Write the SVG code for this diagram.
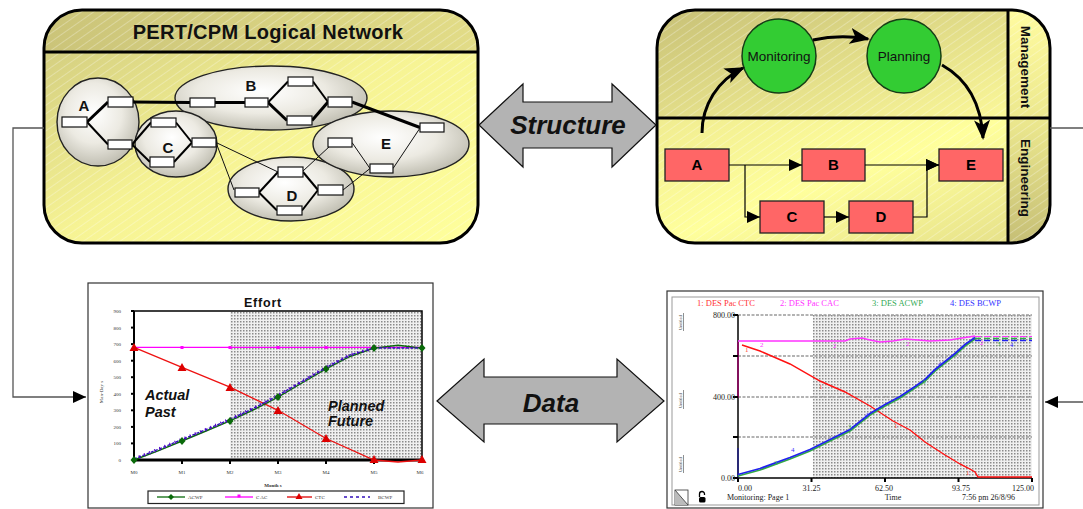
<svg xmlns="http://www.w3.org/2000/svg" width="1083" height="509" viewBox="0 0 1083 509">
<style>
.sans{font-family:"Liberation Sans",Arial,sans-serif}
.serif{font-family:"Liberation Serif","Times New Roman",serif}
.bold{font-weight:bold}
.bi{font-weight:bold;font-style:italic}
.box{fill:#fff;stroke:#111;stroke-width:1.2}
.ell{fill:url(#ellG);stroke:#222;stroke-width:1.4}
.thick{stroke:#000;stroke-width:3;fill:none}
.mid{stroke:#000;stroke-width:2;fill:none}
.thin{stroke:#111;stroke-width:1;fill:none}
.rbox{fill:#ff6666;stroke:#222;stroke-width:1.3}
.circ{fill:#33cc33;stroke:#163d16;stroke-width:1.5}
.flow{stroke:#000;stroke-width:1.2;fill:none}
.curve{stroke:#000;stroke-width:3;fill:none}
.conn{stroke:#555;stroke-width:1.3;fill:none}
.frame{fill:none;stroke:#000;stroke-width:3}
.div{stroke:#000;stroke-width:3}
.bigarrow{fill:#b3b3b3;stroke:#111;stroke-width:1.2}
.tiny{font-size:5px;fill:#333}
.grid{stroke:#9a9a9a;stroke-width:1.6;stroke-dasharray:3 1.5}
</style>
<defs>
<linearGradient id="gHead" x1="0" y1="0" x2="1" y2="0"><stop offset="0" stop-color="#cbc479"/><stop offset="1" stop-color="#e2dc87"/></linearGradient>
<linearGradient id="gBody" x1="0" y1="0" x2="1" y2="1"><stop offset="0" stop-color="#cdc77c"/><stop offset="0.5" stop-color="#f6f394"/><stop offset="1" stop-color="#ffff9c"/></linearGradient>
<linearGradient id="gMgmt" x1="0" y1="0" x2="1" y2="1"><stop offset="0" stop-color="#c8c177"/><stop offset="1" stop-color="#fbf899"/></linearGradient>
<linearGradient id="gEng" x1="0" y1="0" x2="1" y2="1"><stop offset="0" stop-color="#f0ec90"/><stop offset="0.5" stop-color="#ffff9c"/><stop offset="1" stop-color="#e6e18a"/></linearGradient>
<linearGradient id="gColT" x1="0" y1="0" x2="0" y2="1"><stop offset="0" stop-color="#fffba0"/><stop offset="1" stop-color="#ece88e"/></linearGradient>
<linearGradient id="gColB" x1="0" y1="0" x2="0" y2="1"><stop offset="0" stop-color="#ece88e"/><stop offset="1" stop-color="#c6bf76"/></linearGradient>
<radialGradient id="ellG" cx="0.45" cy="0.4" r="0.68"><stop offset="0" stop-color="#ffffff"/><stop offset="0.5" stop-color="#eceae2"/><stop offset="1" stop-color="#b4b2a4"/></radialGradient>
<pattern id="stripes" width="7" height="7" patternUnits="userSpaceOnUse" patternTransform="rotate(-35)"><line x1="0" y1="0.5" x2="7" y2="0.5" stroke="#fff" stroke-opacity="0.28" stroke-width="1"/></pattern>
<pattern id="dots" width="3" height="3" patternUnits="userSpaceOnUse"><rect width="3" height="3" fill="#f0f0f0"/><rect width="1.5" height="1.5" fill="#8a8a8a"/></pattern>
<clipPath id="clipL"><rect x="44" y="10" width="434" height="233" rx="38"/></clipPath>
<clipPath id="clipR"><rect x="657" y="10" width="393" height="233" rx="38"/></clipPath>
<marker id="ah" markerUnits="userSpaceOnUse" markerWidth="13" markerHeight="12" refX="13" refY="6" orient="auto"><path d="M0,0 L13,6 L0,12 z" fill="#000"/></marker>
<marker id="ahBig" markerUnits="userSpaceOnUse" markerWidth="22" markerHeight="16" refX="18" refY="8" orient="auto"><path d="M0,0 L20,8 L0,16 L5,8 z" fill="#000"/></marker>
</defs>

<!-- Top-left panel -->
<g id="pert-panel">
<g clip-path="url(#clipL)">
<rect x="44" y="10" width="434" height="233" fill="url(#gBody)"/>
<rect x="44" y="10" width="434" height="42" fill="url(#gHead)"/>
<rect x="44" y="10" width="434" height="233" fill="url(#stripes)"/>
</g>
<line class="div" x1="44" y1="52" x2="478" y2="52"/>
<rect class="frame" x="44" y="10" width="434" height="233" rx="38"/>
<text class="sans bold" x="268" y="39" font-size="20" letter-spacing="0.3" text-anchor="middle" fill="#111">PERT/CPM Logical Network</text>
</g>

<g id="pert-network">
<ellipse id="ellA" class="ell" cx="98" cy="122" rx="41" ry="44"/>
<ellipse id="ellB" class="ell" cx="271" cy="98" rx="96" ry="32"/>
<ellipse id="ellC" class="ell" cx="176" cy="144" rx="41" ry="33"/>
<ellipse id="ellD" class="ell" cx="291" cy="189" rx="63" ry="32"/>
<ellipse id="ellE" class="ell" cx="391" cy="144" rx="78" ry="33"/>
<g class="sans bold" font-size="15" fill="#111" text-anchor="middle">
<text x="84" y="111">A</text><text x="251" y="91">B</text><text x="168" y="153">C</text><text x="292" y="201">D</text><text x="386" y="149">E</text>
</g>
<g id="pert-links">
<line class="thick" x1="87" y1="122" x2="108" y2="102"/>
<line class="mid" x1="87" y1="122" x2="108" y2="144.5"/>
<line class="thick" x1="133" y1="102" x2="190" y2="102.5"/>
<line class="thick" x1="215" y1="102.5" x2="245" y2="102.5"/>
<line class="mid" x1="268" y1="102.5" x2="288" y2="81.5"/>
<line class="thick" x1="268" y1="102.5" x2="287" y2="120.5"/>
<line class="mid" x1="313" y1="81.5" x2="328" y2="102"/>
<line class="thick" x1="312" y1="120.5" x2="328" y2="102"/>
<line class="thick" x1="352" y1="102" x2="420" y2="127.5"/>
<line class="mid" x1="132" y1="144.5" x2="151" y2="122.5"/>
<line class="mid" x1="132" y1="144.5" x2="150" y2="162"/>
<line class="mid" x1="176" y1="122.5" x2="192" y2="142.5"/>
<line class="mid" x1="174" y1="162" x2="192" y2="142.5"/>
<line class="thin" x1="216" y1="142.5" x2="278" y2="172"/>
<line class="thin" x1="216" y1="142.5" x2="234" y2="190"/>
<line class="mid" x1="259" y1="192.5" x2="278" y2="172"/>
<line class="mid" x1="259" y1="192.5" x2="277" y2="210.5"/>
<line class="mid" x1="303" y1="172" x2="318" y2="190"/>
<line class="mid" x1="302" y1="210.5" x2="318" y2="190"/>
<line class="thin" x1="303" y1="171" x2="330" y2="146"/>
<line class="thin" x1="343" y1="190" x2="370" y2="168.5"/>
<line class="thin" x1="352" y1="142.5" x2="370" y2="168.5"/>
<line class="thin" x1="393" y1="168.5" x2="420" y2="128"/>
</g>
<g id="pert-boxes">
<rect class="box" x="62" y="117" width="25" height="10"/>
<rect class="box" x="108" y="97" width="25" height="10"/>
<rect class="box" x="108" y="140" width="24" height="9"/>
<rect class="box" x="151" y="118" width="25" height="9"/>
<rect class="box" x="150" y="157" width="24" height="10"/>
<rect class="box" x="192" y="138" width="24" height="9"/>
<rect class="box" x="190" y="98" width="25" height="9"/>
<rect class="box" x="245" y="98" width="23" height="9"/>
<rect class="box" x="288" y="77" width="25" height="9"/>
<rect class="box" x="287" y="116" width="25" height="9"/>
<rect class="box" x="328" y="97" width="24" height="10"/>
<rect class="box" x="420" y="123" width="24" height="9"/>
<rect class="box" x="328" y="138" width="24" height="9"/>
<rect class="box" x="370" y="164" width="23" height="9"/>
<rect class="box" x="278" y="167" width="25" height="10"/>
<rect class="box" x="235" y="188" width="24" height="9"/>
<rect class="box" x="277" y="206" width="25" height="9"/>
<rect class="box" x="318" y="185" width="25" height="10"/>
</g>
</g>

<!-- Top-right panel -->
<g id="structure-panel">
<g clip-path="url(#clipR)">
<rect x="657" y="10" width="351" height="108" fill="url(#gMgmt)"/>
<rect x="657" y="118" width="351" height="125" fill="url(#gEng)"/>
<rect x="1008" y="10" width="42" height="108" fill="url(#gColT)"/>
<rect x="1008" y="118" width="42" height="125" fill="url(#gColB)"/>
<rect x="657" y="10" width="393" height="233" fill="url(#stripes)"/>
</g>
<line class="div" x1="657" y1="118" x2="1050" y2="118"/>
<line class="div" x1="1008" y1="10" x2="1008" y2="243"/>
<rect class="frame" x="657" y="10" width="393" height="233" rx="38"/>
<text class="sans bold" font-size="13.5" fill="#111" text-anchor="middle" transform="translate(1021,67) rotate(90)">Management</text>
<text class="sans bold" font-size="13.5" fill="#111" text-anchor="middle" transform="translate(1021,178) rotate(90)">Engineering</text>
</g>
<g id="node-monitoring"><circle class="circ" cx="779" cy="56" r="37"/><text class="sans" x="779" y="61" font-size="13.5" text-anchor="middle" fill="#111">Monitoring</text></g>
<g id="node-planning"><circle class="circ" cx="904" cy="56" r="37"/><text class="sans" x="904" y="61" font-size="13.5" text-anchor="middle" fill="#111">Planning</text></g>
<g id="node-A"><rect class="rbox" x="665" y="149" width="64" height="32"/><text class="sans bold" x="697" y="170" font-size="15" text-anchor="middle">A</text></g>
<g id="node-B"><rect class="rbox" x="802" y="149" width="63" height="32"/><text class="sans bold" x="833.5" y="170" font-size="15" text-anchor="middle">B</text></g>
<g id="node-E"><rect class="rbox" x="939" y="149" width="64" height="32"/><text class="sans bold" x="971" y="170" font-size="15" text-anchor="middle">E</text></g>
<g id="node-C"><rect class="rbox" x="760" y="201" width="64" height="32"/><text class="sans bold" x="792" y="222" font-size="15" text-anchor="middle">C</text></g>
<g id="node-D"><rect class="rbox" x="849" y="201" width="64" height="32"/><text class="sans bold" x="881" y="222" font-size="15" text-anchor="middle">D</text></g>

<!-- Middle arrows -->
<g id="structure-arrow">
<polygon class="bigarrow" points="479,125 523,84 523,102 612,102 612,84 656,125 612,167 612,148 523,148 523,167"/>
<text class="sans bi" x="568" y="134" font-size="26" text-anchor="middle" fill="#111">Structure</text>
</g>
<g id="data-arrow">
<polygon class="bigarrow" points="437,401 484,359 484,377 617,377 617,359 664,401 617,442 617,424 484,424 484,442"/>
<text class="sans bi" x="551" y="412" font-size="26" text-anchor="middle" fill="#111">Data</text>
</g>

<!-- Bottom-left chart -->
<g id="effort-chart">
<rect x="88" y="283" width="345" height="225" fill="#fff" stroke="#333" stroke-width="1.2"/>
<text class="sans bold" x="263" y="307" font-size="12.5" letter-spacing="0.8" text-anchor="middle" fill="#111">Effort</text>
<rect x="230" y="311" width="192" height="149" fill="url(#dots)"/>
<rect x="134" y="311" width="288" height="149" fill="none" stroke="#000" stroke-width="1.5"/>
<line x1="134" y1="311" x2="134" y2="460" stroke="#000" stroke-width="2"/>
<line x1="132" y1="460" x2="422" y2="460" stroke="#000" stroke-width="3"/>
<g stroke="#000" stroke-width="2">
<line x1="131" y1="311" x2="134" y2="311"/><line x1="131" y1="327.6" x2="134" y2="327.6"/><line x1="131" y1="344.1" x2="134" y2="344.1"/><line x1="131" y1="360.7" x2="134" y2="360.7"/><line x1="131" y1="377.2" x2="134" y2="377.2"/><line x1="131" y1="393.8" x2="134" y2="393.8"/><line x1="131" y1="410.3" x2="134" y2="410.3"/><line x1="131" y1="426.9" x2="134" y2="426.9"/><line x1="131" y1="443.4" x2="134" y2="443.4"/>
<line x1="182" y1="460" x2="182" y2="464"/><line x1="230" y1="460" x2="230" y2="464"/><line x1="278" y1="460" x2="278" y2="464"/><line x1="326" y1="460" x2="326" y2="464"/><line x1="374" y1="460" x2="374" y2="464"/>
</g>
<g class="serif tiny" text-anchor="end">
<text x="121" y="313">900</text><text x="121" y="329.6">800</text><text x="121" y="346.1">700</text><text x="121" y="362.7">600</text><text x="121" y="379.2">500</text><text x="121" y="395.8">400</text><text x="121" y="412.3">300</text><text x="121" y="428.9">200</text><text x="121" y="445.4">100</text><text x="121" y="462">0</text>
</g>
<g class="serif tiny" text-anchor="middle">
<text x="134" y="474">M0</text><text x="182" y="474">M1</text><text x="230" y="474">M2</text><text x="278" y="474">M3</text><text x="326" y="474">M4</text><text x="374" y="474">M5</text><text x="420" y="474">M6</text>
<text x="273" y="487" font-weight="bold">Month s</text>
</g>
<text class="serif tiny" text-anchor="middle" transform="translate(103,392) rotate(-90)">Man-Day s</text>
<line x1="134" y1="347.4" x2="422" y2="347.4" stroke="#ff00ff" stroke-width="1.3"/>
<g fill="#ff00ff"><rect x="180.5" y="346" width="3" height="3"/><rect x="228.5" y="346" width="3" height="3"/><rect x="276.5" y="346" width="3" height="3"/><rect x="324.5" y="346" width="3" height="3"/></g>
<polyline points="134,347.4 182,367.3 230,387.1 278,410.3 326,438.5 374,460 398,462 422,460" fill="none" stroke="#ee1111" stroke-width="1.3"/>
<g fill="#dd0000"><polygon points="134,343 138.5,351 129.5,351"/><polygon points="182,363 186.5,371 177.5,371"/><polygon points="230,383 234.5,391 225.5,391"/><polygon points="278,406 282.5,414 273.5,414"/><polygon points="326,434 330.5,442 321.5,442"/><polygon points="374,455 378.5,463 369.5,463"/><polygon points="422,455 426.5,463 417.5,463"/></g>
<polyline points="134,460 158,450.9 182,441 206,431 230,420.9 254,409.5 278,397.1 302,383 326,368.9 350,356.5 374,348.1 398,345.2 422,348.1" fill="none" stroke="#0a6a0a" stroke-width="1.4"/>
<polyline points="134,459 158,449.5 182,439.5 206,429.5 230,419.5 254,408 278,395.5 302,381.5 326,367.5 350,355 374,348 398,348 422,348" fill="none" stroke="#3311bb" stroke-width="1.4" stroke-dasharray="3 1.5"/>
<polyline points="134,459 158,449.5 182,439.5 206,429.5 230,419.5 254,408 278,395.5 302,381.5 326,367.5 350,355 374,348" fill="none" stroke="#5500cc" stroke-width="3.5" stroke-dasharray="1 4.5"/>
<g fill="#0a6a0a"><polygon points="134,456 137.5,460 134,464 130.5,460"/><polygon points="182,437 185.5,441 182,445 178.5,441"/><polygon points="230,416.9 233.5,420.9 230,424.9 226.5,420.9"/><polygon points="278,393.1 281.5,397.1 278,401.1 274.5,397.1"/><polygon points="326,364.9 329.5,368.9 326,372.9 322.5,368.9"/><polygon points="374,344.1 377.5,348.1 374,352.1 370.5,348.1"/><polygon points="422,344.1 425.5,348.1 422,352.1 418.5,348.1"/></g>
<text class="sans bi" x="145" y="400" font-size="14.5" fill="#111">Actual</text>
<text class="sans bi" x="145" y="417" font-size="14.5" fill="#111">Past</text>
<text class="sans bi" x="328" y="411" font-size="14.5" fill="#111">Planned</text>
<text class="sans bi" x="328" y="426" font-size="14.5" fill="#111">Future</text>
<rect x="148" y="491" width="256" height="12.5" fill="#fff" stroke="#222" stroke-width="1.2"/>
<line x1="157" y1="497" x2="185" y2="497" stroke="#0a6a0a" stroke-width="1.3"/><polygon points="171,494 174,497 171,500 168,497" fill="#0a6a0a"/>
<line x1="225" y1="497" x2="253" y2="497" stroke="#ff00ff" stroke-width="1.3"/><rect x="237.5" y="494.5" width="3" height="3" fill="#ff00ff"/>
<line x1="287" y1="497" x2="312" y2="497" stroke="#dd0000" stroke-width="1.3"/><polygon points="299,493 302.5,499 295.5,499" fill="#dd0000"/>
<line x1="344" y1="497" x2="370" y2="497" stroke="#3311bb" stroke-width="1.3" stroke-dasharray="3 3"/>
<g class="serif tiny"><text x="188" y="499">ACWP</text><text x="256" y="499">C AC</text><text x="315" y="499">CTC</text><text x="378" y="499">BCWP</text></g>
</g>

<!-- Bottom-right chart -->
<g id="monitoring-chart">
<rect x="667" y="291" width="376" height="217" fill="#fff" stroke="#333" stroke-width="1.2"/>
<rect x="672" y="297" width="367" height="208" fill="none" stroke="#999" stroke-width="1"/>
<g class="serif" font-size="8.5">
<text x="697" y="306" fill="#ff3333">1: DES Pac CTC</text>
<text x="780" y="306" fill="#ff33ff">2: DES Pac CAC</text>
<text x="872" y="306" fill="#33aa55">3: DES ACWP</text>
<text x="950" y="306" fill="#3333ff">4: DES BCWP</text>
</g>
<rect x="813" y="315" width="219" height="163" fill="url(#dots)"/>
<line class="grid" x1="738" y1="315" x2="1032" y2="315"/>
<line class="grid" x1="738" y1="356" x2="1032" y2="356"/>
<line class="grid" x1="738" y1="397" x2="1032" y2="397"/>
<line class="grid" x1="738" y1="437" x2="1032" y2="437"/>
<line x1="738" y1="315" x2="738" y2="478" stroke="#000" stroke-width="1.5"/>
<line x1="738" y1="478" x2="1032" y2="478" stroke="#000" stroke-width="1.5"/>
<line x1="738" y1="342" x2="738" y2="398" stroke="#990066" stroke-width="1.5"/>
<line x1="738" y1="448" x2="738" y2="478" stroke="#222288" stroke-width="1.5"/>
<g stroke="#000" stroke-width="2">
<line x1="733" y1="315" x2="738" y2="315"/><line x1="733" y1="356" x2="738" y2="356"/><line x1="733" y1="397" x2="738" y2="397"/><line x1="733" y1="437" x2="738" y2="437"/><line x1="733" y1="478" x2="738" y2="478"/>
<line x1="738" y1="478" x2="738" y2="482"/><line x1="811.5" y1="478" x2="811.5" y2="482"/><line x1="885" y1="478" x2="885" y2="482"/><line x1="958.5" y1="478" x2="958.5" y2="482"/><line x1="1032" y1="478" x2="1032" y2="482"/>
</g>
<g class="serif" font-size="8" fill="#222">
<text x="735" y="318" text-anchor="end">800.00</text>
<text x="735" y="400" text-anchor="end">400.00</text>
<text x="735" y="481" text-anchor="end">0.00</text>
<text x="738" y="491">0.00</text>
<text x="811.5" y="491" text-anchor="middle">31.25</text>
<text x="884" y="491" text-anchor="middle">62.50</text>
<text x="961" y="491" text-anchor="middle">93.75</text>
<text x="1034" y="491" text-anchor="end">125.00</text>
<text x="727" y="500">Monitoring: Page 1</text>
<text x="893" y="500" text-anchor="middle">Time</text>
<text x="962" y="500">7:56 pm   26/8/96</text>
</g>
<g class="serif" font-size="4.5" fill="#444">
<text transform="translate(682,330) rotate(-90)">Untitled</text>
<text transform="translate(682,408) rotate(-90)">Untitled</text>
<text transform="translate(682,472) rotate(-90)">Untitled</text>
</g>
<g stroke="#444" stroke-width="0.6"><line x1="683.5" y1="313" x2="683.5" y2="331"/><line x1="683.5" y1="390" x2="683.5" y2="409"/><line x1="683.5" y1="455" x2="683.5" y2="473"/></g>
<rect x="675" y="490" width="13" height="15" fill="#fff" stroke="#333" stroke-width="0.8"/>
<polygon points="675,490 688,505 675,505" fill="#bbb"/>
<line x1="675" y1="490" x2="688" y2="505" stroke="#333" stroke-width="0.8"/>
<path d="M699.5,497 V494 A2.5,2.5 0 0 1 704.5,494 V495" fill="none" stroke="#000" stroke-width="1.3"/>
<rect x="699" y="497" width="6.5" height="5.5" rx="1.5" fill="#000"/>
<polyline points="738,341 845,341 850,339 862,338 870,340 880,342 893,341 905,339 918,340 930,341 950,340 962,338 975,336" fill="none" stroke="#ff33ff" stroke-width="1.4"/>
<polyline points="742,345 760,351 790,364 820,381 845,392 870,406 893,421 910,430 925,442 945,455 960,464 968,468 975,472 978,477 1032,477" fill="none" stroke="#ff1111" stroke-width="1.4"/>
<polyline points="738,476 760,470 790,459 810,451 830,441 850,431 870,415 885,406 900,398 915,388 925,381 935,371 945,363 955,355 965,346 975,339" fill="none" stroke="#33aa44" stroke-width="1.8"/>
<polyline points="738,474.5 760,468.5 790,457.5 810,449.5 830,439.5 850,429.5 870,413.5 885,404.5 900,396.5 915,386.5 925,379.5 935,369.5 945,361.5 955,353.5 965,344.5 975,337.5" fill="none" stroke="#2222ee" stroke-width="1.8"/>
<line x1="975" y1="336.5" x2="1032" y2="336.5" stroke="#ff33ff" stroke-width="1.2" stroke-dasharray="6 3"/>
<line x1="975" y1="338.5" x2="1032" y2="338.5" stroke="#33aa44" stroke-width="1.4" stroke-dasharray="6 3"/>
<line x1="975" y1="340.5" x2="1032" y2="340.5" stroke="#2222ee" stroke-width="1.4" stroke-dasharray="6 3"/>
<g class="serif" font-size="7">
<text x="745" y="352" fill="#ff3333">1</text><text x="819" y="389" fill="#ff3333">1</text><text x="894" y="428" fill="#ff3333">1</text><text x="966" y="475" fill="#ff3333">1</text>
<text x="760" y="347" fill="#ff33ff">2</text><text x="833" y="348" fill="#ff33ff">2</text><text x="906" y="346" fill="#ff33ff">2</text><text x="980" y="345" fill="#ff33ff">2</text>
<text x="774" y="465" fill="#33aa55">3</text><text x="848" y="429" fill="#33aa55">3</text><text x="922" y="384" fill="#33aa55">3</text><text x="997" y="346" fill="#33aa55">3</text>
<text x="791" y="452" fill="#3333ff">4</text><text x="865" y="417" fill="#3333ff">4</text><text x="938" y="366" fill="#3333ff">4</text><text x="1010" y="347" fill="#3333ff">4</text>
</g>
</g>

<!-- Connectors -->
<g id="connectors">
<path class="conn" d="M44,128 H13 V397 H86" marker-end="url(#ah)"/>
<path class="conn" d="M1050,128 H1083"/>
<path class="conn" d="M1083,402 H1045" marker-end="url(#ah)"/>
<path class="curve" d="M702,133 C702,105 718,80 743,68" marker-end="url(#ahBig)"/>
<path class="curve" d="M813,40 Q840,34 868,39" marker-end="url(#ahBig)"/>
<path class="curve" d="M942,65 C965,78 981,100 983,138" marker-end="url(#ahBig)"/>
<path class="flow" d="M729,165 H802" marker-end="url(#ah)"/>
<path class="flow" d="M745,165 V217 H760" marker-end="url(#ah)"/>
<path class="flow" d="M824,217 H849" marker-end="url(#ah)"/>
<path class="flow" d="M865,165 H939" marker-end="url(#ah)"/>
<path class="flow" d="M913,217 H927 V165 H939" marker-end="url(#ah)"/>
</g>
</svg>
